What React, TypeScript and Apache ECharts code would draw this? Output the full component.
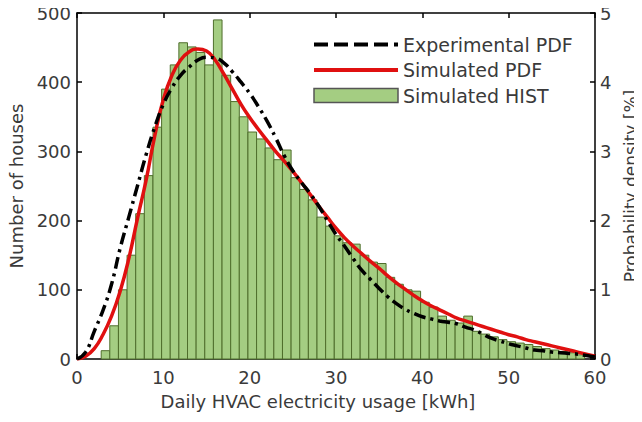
import React, { useEffect, useRef } from "react";
import * as echarts from "echarts";

// Histogram: bin start edge, bin width and counts per bin (kWh)
const histFirstEdge = 2.8;
const histBinWidth = 1;
const histCounts = [
  12, 48, 100, 150, 210, 265, 335, 390, 425, 457, 451, 443, 425, 490, 410, 372,
  350, 328, 318, 305, 288, 302, 262, 245, 230, 205, 192, 178, 168, 166, 150, 140,
  138, 118, 108, 100, 98, 82, 75, 62, 56, 52, 62, 40, 36, 32, 28, 25, 23, 21, 18,
  15, 13, 11, 9, 6,
];

// PDF curves (in "number of houses" units), sampled at integer kWh
const pdfX = [
  0, 1, 2, 3, 4, 5, 6, 7, 8, 9, 10, 11, 12, 13, 14, 15, 16, 17, 18, 19, 20, 21,
  22, 23, 24, 25, 26, 27, 28, 29, 30, 31, 32, 33, 34, 35, 36, 37, 38, 39, 40, 41,
  42, 43, 44, 45, 46, 47, 48, 49, 50, 51, 52, 53, 54, 55, 56, 57, 58, 59, 60,
];
const simulatedPdf = [
  0, 4, 15, 35, 62, 98, 145, 203, 258, 322, 375, 410, 432, 444, 448, 445, 432,
  412, 390, 368, 349, 332, 316, 300, 286, 271, 255, 238, 221, 205, 189, 175, 163,
  152, 141, 131, 120, 110, 101, 92, 84, 77, 71, 65, 59, 55, 51, 47, 43, 39, 35,
  32, 28, 25, 22, 19, 16, 13, 10, 7, 4,
];
const experimentalPdf = [
  0, 10, 40, 70, 108, 160, 205, 250, 295, 335, 368, 392, 410, 422, 432, 436, 435,
  428, 415, 400, 384, 365, 344, 320, 294, 272, 255, 239, 221, 200, 180, 163, 145,
  128, 115, 102, 90, 80, 72, 66, 61, 58, 55, 53, 51, 46, 42, 36, 30, 26, 22, 19,
  16, 13, 12, 10, 9, 8, 7, 5, 3,
];

const xTicks = { min: 0, max: 60, interval: 10 };
const leftTicks = { min: 0, max: 500, interval: 100 };
const rightTicks = { min: 0, max: 5, interval: 1 };

const FONT = "DejaVu Sans";
const TEXT = "#3a3a3a";
const BAR_FILL = "#a4cd82";
const BAR_EDGE = "#4f6e2c";

export default function App() {
  const ref = useRef<HTMLDivElement>(null);

  useEffect(() => {
    if (!ref.current) return;
    const chart = echarts.init(ref.current, null, { renderer: "svg" });

    const histData = histCounts.map((c, i) => [
      histFirstEdge + i * histBinWidth,
      histFirstEdge + (i + 1) * histBinWidth,
      c,
    ]);
    const simData = pdfX.map((x, i) => [x, simulatedPdf[i]]);
    const expData = pdfX.map((x, i) => [x, experimentalPdf[i]]);

    const axisLine = { show: true, onZero: false, lineStyle: { color: "#000", width: 1.5 } };
    const axisTick = { show: true, inside: true, length: 5, lineStyle: { color: "#000", width: 1.5 } };
    const labelStyle = { color: TEXT, fontSize: 18, fontFamily: FONT };
    const nameStyle = { color: TEXT, fontSize: 18, fontFamily: FONT };

    chart.setOption({
      animation: false,
      grid: { left: 77, right: 47, top: 13, bottom: 63, containLabel: false, outerBoundsMode: "none" },
      legend: {
        orient: "vertical",
        left: 312,
        top: 35,
        padding: 0,
        itemWidth: 84,
        itemHeight: 14,
        itemGap: 6.5,
        textStyle: { color: TEXT, fontSize: 19, fontFamily: FONT },
        data: [
          {
            name: "Experimental PDF",
            itemStyle: { opacity: 0 },
            lineStyle: { type: [14, 6], width: 4, color: "#000" },
          },
          {
            name: "Simulated PDF",
            itemStyle: { opacity: 0 },
            lineStyle: { width: 4, color: "#e01010" },
          },
          {
            name: "Simulated HIST",
            icon: "rect",
            itemStyle: { color: BAR_FILL, borderColor: "#555", borderWidth: 1.5 },
          },
        ],
      },
      xAxis: [
        {
          type: "value",
          ...xTicks,
          position: "bottom",
          axisLine,
          axisTick,
          splitLine: { show: false },
          axisLabel: { ...labelStyle, margin: 9 },
          name: "Daily HVAC electricity usage [kWh]",
          nameLocation: "middle",
          nameGap: 33,
          nameTextStyle: { ...nameStyle, padding: [0, 36, 0, 0] },
        },
        {
          type: "value",
          ...xTicks,
          position: "top",
          axisLine,
          axisTick,
          splitLine: { show: false },
          axisLabel: { show: false },
        },
      ],
      yAxis: [
        {
          type: "value",
          ...leftTicks,
          position: "left",
          axisLine,
          axisTick,
          splitLine: { show: false },
          axisLabel: { ...labelStyle, margin: 6 },
          name: "Number of houses",
          nameLocation: "middle",
          nameRotate: 90,
          nameGap: 40,
          nameTextStyle: nameStyle,
        },
        {
          type: "value",
          ...rightTicks,
          position: "right",
          axisLine,
          axisTick,
          splitLine: { show: false },
          axisLabel: { ...labelStyle, margin: 5 },
          name: "Probability density [%]",
          nameLocation: "middle",
          nameRotate: 90,
          nameGap: 18,
          nameTextStyle: { ...nameStyle, fontSize: 17 },
        },
      ],
      series: [
        {
          name: "Simulated HIST",
          type: "custom",
          xAxisIndex: 0,
          yAxisIndex: 0,
          itemStyle: { color: BAR_FILL, borderColor: BAR_EDGE },
          encode: { x: [0, 1], y: 2 },
          data: histData,
          renderItem: (params: any, api: any) => {
            const p0 = api.coord([api.value(0), api.value(2)]);
            const p1 = api.coord([api.value(1), 0]);
            return {
              type: "rect",
              shape: { x: p0[0], y: p0[1], width: p1[0] - p0[0], height: p1[1] - p0[1] },
              style: { fill: BAR_FILL, stroke: BAR_EDGE, lineWidth: 1 },
            };
          },
        },
        {
          name: "Simulated PDF",
          type: "line",
          xAxisIndex: 0,
          yAxisIndex: 0,
          smooth: true,
          symbol: "none",
          data: simData,
          itemStyle: { color: "#e01010" },
          lineStyle: { color: "#e01010", width: 3.5 },
          z: 3,
        },
        {
          name: "Experimental PDF",
          type: "line",
          xAxisIndex: 0,
          yAxisIndex: 0,
          smooth: true,
          symbol: "none",
          data: expData,
          itemStyle: { color: "#000" },
          lineStyle: { color: "#000", width: 3.5, type: [12, 5, 3, 5] },
          z: 4,
        },
      ],
    });

    return () => chart.dispose();
  }, []);

  return <div ref={ref} style={{ width: 642, height: 422, margin: -8 }} />;
}
